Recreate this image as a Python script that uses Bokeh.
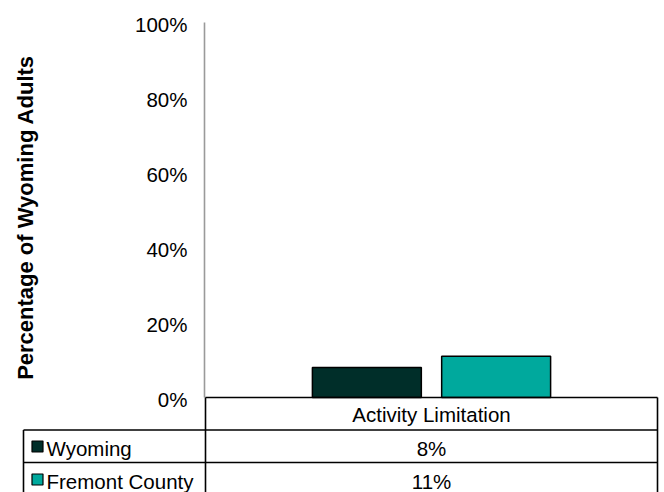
import math
from bokeh.plotting import figure
from bokeh.models import Range1d
from bokeh.core.properties import value
from bokeh.embed import file_html
from bokeh.resources import INLINE

# ---- data ----
categories = ["Activity Limitation"]
series = ["Wyoming", "Fremont County"]
values = [8, 11]
y_ticks = [0, 20, 40, 60, 80, 100]
y_tick_labels = ["0%", "20%", "40%", "60%", "80%", "100%"]
y_title = "Percentage of Wyoming Adults"

# ---- style ----
colors = ["#002e29", "#00a99d"]
FONT = value("Liberation Sans")
FS = "20.5px"

W, H = 664, 492
OFF = 0         # page offset of the canvas
XC = 431.0      # category centre (px)
XPX = 452.0     # px per category
Y0 = 397.0      # y of 0%
YPX = 3.75      # px per percent

def dx(px):
    return (px - XC) / XPX

def dy(py):
    return (Y0 - py) / YPX

p = figure(width=W, height=H, output_backend="svg", toolbar_location=None,
           x_range=Range1d(dx(OFF), dx(OFF + W)), y_range=Range1d(dy(OFF + H), dy(OFF)),
           x_axis_location=None, y_axis_location=None, min_border=0)
p.grid.visible = False
p.outline_line_color = None
p.background_fill_color = "white"
p.border_fill_color = "white"

# bars
offsets = [-0.143, 0.143]
bar_w = 0.241
for i, (name, v) in enumerate(zip(series, values)):
    p.vbar(x=[0 + offsets[i]], top=[v], bottom=0, width=bar_w,
           fill_color=colors[i], line_color="black", line_width=1.5)

# y axis line + tick labels
p.segment(x0=[dx(204)], y0=[y_ticks[0]], x1=[dx(204)], y1=[y_ticks[-1]],
          line_color="#9a9a9a", line_width=1.6)
p.text(x=[dx(187)] * len(y_ticks), y=y_ticks, text=y_tick_labels,
       text_align="right", text_baseline="middle", text_font=FONT,
       text_font_size=FS, text_color="black", y_offset=2)

# y title
p.text(x=[dx(25)], y=[dy(217)], text=[y_title], angle=math.pi / 2,
       text_align="center", text_baseline="middle", text_font=FONT,
       text_font_size="22px", text_font_style="bold", text_color="black")

# data table
rows = [397, 429.5, 462]
bottom = 510
right = 657
left_tab = 23
xs0 = [dx(205), dx(left_tab), dx(left_tab), dx(205), dx(left_tab), dx(right)]
ys0 = [dy(rows[0]), dy(rows[1]), dy(rows[2]), dy(rows[0]), dy(rows[1]), dy(rows[0])]
xs1 = [dx(right), dx(right), dx(right), dx(205), dx(left_tab), dx(right)]
ys1 = [dy(rows[0]), dy(rows[1]), dy(rows[2]), dy(bottom), dy(bottom), dy(bottom)]
p.segment(x0=xs0, y0=ys0, x1=xs1, y1=ys1, line_color="black", line_width=1.6)

# header cell
p.text(x=[0], y=[dy(413)], text=categories, text_align="center",
       text_baseline="middle", text_font=FONT, text_font_size=FS,
       text_color="black", y_offset=1)

# series rows
row_mid = [447, 480]
for i, (name, v) in enumerate(zip(series, values)):
    p.text(x=[0], y=[dy(row_mid[i])], text=[f"{v}%"], text_align="center",
           text_baseline="middle", text_font=FONT, text_font_size=FS,
           text_color="black", y_offset=1)
    p.scatter(x=[dx(37)], y=[dy(row_mid[i] - 1)], marker="square", size=11,
              fill_color=colors[i], line_color="black", line_width=1.2)
    p.text(x=[dx(46)], y=[dy(row_mid[i])], text=[name], text_align="left",
           text_baseline="middle", text_font=FONT, text_font_size=FS,
           text_color="black", y_offset=1)

open("out.html", "w").write(file_html(p, INLINE))
